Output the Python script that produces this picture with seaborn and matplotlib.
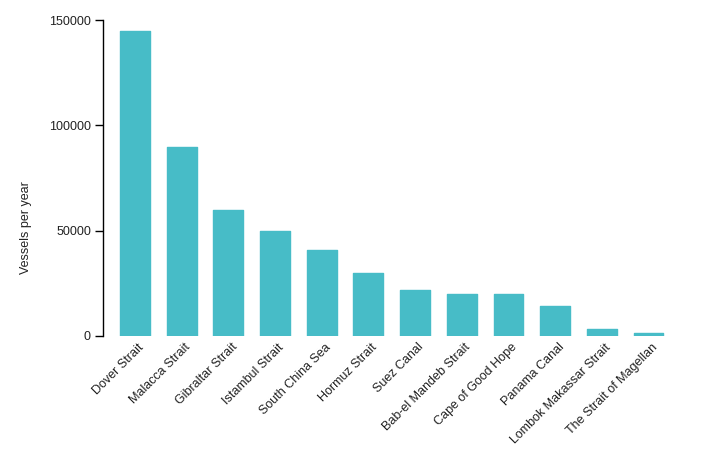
import matplotlib
matplotlib.use("Agg")
import matplotlib.pyplot as plt
import matplotlib.transforms as mtransforms
import seaborn as sns
import pandas as pd

# --- Data ---
routes = ['Dover Strait', 'Malacca Strait', 'Gibraltar Strait', 'Istambul Strait',
          'South China Sea', 'Hormuz Strait', 'Suez Canal', 'Bab-el Mandeb Strait',
          'Cape of Good Hope', 'Panama Canal', 'Lombok Makassar Strait',
          'The Strait of Magellan']
vessels = [145000, 89700, 60000, 50000, 40700, 30000, 21700, 19800, 19800, 14100, 3200, 1300]
y_ticks = [0, 50000, 100000, 150000]

BAR_COLOR = '#47bcc7'

sns.set_theme(style="white")
plt.rcParams['font.family'] = ['Liberation Sans', 'DejaVu Sans']

df = pd.DataFrame({'route': routes, 'vessels': vessels})

fig = plt.figure(figsize=(7.05, 4.5), dpi=100)
ax = fig.add_axes([103.5 / 705, 114 / 450, (680 - 103.5) / 705, 316 / 450])

sns.barplot(ax=ax, data=df, x='route', y='vessels', color=BAR_COLOR,
            saturation=1, width=0.64, linewidth=1.0, edgecolor=BAR_COLOR)
for p in ax.patches:
    p.set_joinstyle('round')

ax.set_xlim(-0.675, len(routes) - 1 + 0.675)
ax.set_ylim(0, 150000)
ax.set_yticks(y_ticks)
ax.set_yticklabels([str(t) for t in y_ticks], fontsize=9, color='#222222')

ax.set_xticks(range(len(routes)))
ax.set_xticklabels(routes, rotation=45, ha='right', va='center',
                   rotation_mode='anchor', fontsize=9, color='#222222')
ax.tick_params(axis='x', length=0, pad=9)
ax.tick_params(axis='y', length=6, width=1, direction='out', color='black', pad=3, left=True)

# nudge the rotated labels so their ends sit just right of the bar centres
shift = mtransforms.ScaledTranslation(7 / 100, 3 / 100, fig.dpi_scale_trans)
for lbl in ax.get_xticklabels():
    lbl.set_transform(lbl.get_transform() + shift)

ax.set_xlabel('')
ax.set_ylabel('Vessels per year', fontsize=9, color='#222222')
ax.yaxis.set_label_coords(-0.124, 0.342)

for side in ['top', 'right', 'bottom']:
    ax.spines[side].set_visible(False)
ax.spines['left'].set_color('black')
ax.spines['left'].set_linewidth(1)

fig.savefig('out.png', dpi=100)
